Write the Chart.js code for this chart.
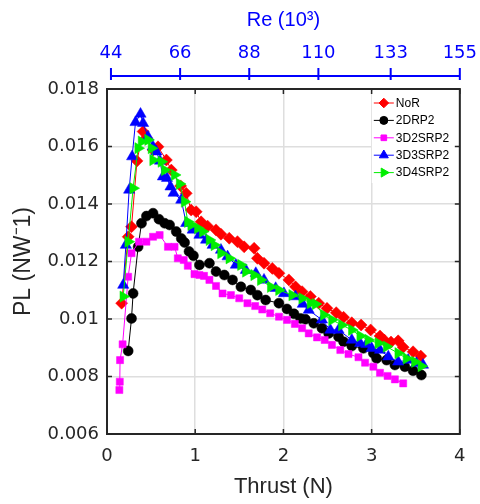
<!DOCTYPE html>
<html>
<head>
<meta charset="utf-8">
<script src="https://cdn.jsdelivr.net/npm/chart.js@4/dist/chart.umd.min.js"></script>
<style>
  body { margin: 0; background: #fff; }
</style>
</head>
<body>
<canvas id="myChart" width="480" height="504"></canvas>
<script>
// thrust (N) and power loading PL (N/W)
var norT = [0.166, 0.240, 0.278, 0.340, 0.409, 0.447, 0.522, 0.578, 0.673, 0.729, 0.835, 0.898, 0.954, 1.011, 1.067, 1.141, 1.236, 1.292, 1.386, 1.479, 1.555, 1.668, 1.705, 1.780, 1.874, 1.949, 2.062, 2.137, 2.212, 2.306, 2.400, 2.494, 2.599, 2.682, 2.775, 2.881, 2.989, 3.095, 3.144, 3.220, 3.301, 3.358, 3.470, 3.557];
var norPL = [0.01055, 0.01286, 0.01321, 0.01550, 0.01652, 0.01630, 0.01588, 0.01599, 0.01553, 0.01518, 0.01463, 0.01437, 0.01379, 0.01373, 0.01338, 0.01323, 0.01310, 0.01295, 0.01281, 0.01269, 0.01251, 0.01246, 0.01211, 0.01194, 0.01176, 0.01159, 0.01136, 0.01112, 0.01095, 0.01078, 0.01055, 0.01037, 0.01022, 0.01006, 0.00987, 0.00979, 0.00962, 0.00941, 0.00927, 0.00920, 0.00924, 0.00902, 0.00886, 0.00871];

var drpT = [0.240, 0.278, 0.296, 0.353, 0.391, 0.447, 0.522, 0.589, 0.654, 0.710, 0.785, 0.842, 0.880, 0.930, 0.980, 1.048, 1.161, 1.236, 1.330, 1.423, 1.518, 1.630, 1.705, 1.799, 1.949, 2.040, 2.120, 2.194, 2.250, 2.344, 2.437, 2.513, 2.625, 2.682, 2.775, 2.907, 3.020, 3.057, 3.170, 3.264, 3.377, 3.470, 3.564];
var drpPL = [0.00889, 0.01002, 0.01089, 0.01251, 0.01333, 0.01358, 0.01368, 0.01347, 0.01333, 0.01327, 0.01304, 0.01280, 0.01266, 0.01235, 0.01220, 0.01188, 0.01194, 0.01165, 0.01153, 0.01136, 0.01112, 0.01101, 0.01083, 0.01066, 0.01055, 0.01035, 0.01018, 0.01002, 0.00999, 0.00985, 0.00968, 0.00950, 0.00938, 0.00921, 0.00906, 0.00898, 0.00881, 0.00863, 0.00857, 0.00840, 0.00834, 0.00820, 0.00805];

var s2T = [0.140, 0.145, 0.148, 0.177, 0.240, 0.278, 0.364, 0.447, 0.522, 0.597, 0.691, 0.766, 0.803, 0.870, 0.916, 0.992, 1.048, 1.100, 1.161, 1.236, 1.310, 1.405, 1.499, 1.592, 1.680, 1.760, 1.850, 1.950, 2.040, 2.130, 2.212, 2.287, 2.381, 2.468, 2.550, 2.645, 2.738, 2.851, 2.926, 3.020, 3.095, 3.181, 3.264, 3.358];
var s2PL = [0.00753, 0.00782, 0.00857, 0.00912, 0.01147, 0.01229, 0.01269, 0.01269, 0.01286, 0.01292, 0.01251, 0.01251, 0.01211, 0.01205, 0.01185, 0.01156, 0.01153, 0.01150, 0.01136, 0.01115, 0.01089, 0.01083, 0.01072, 0.01055, 0.01045, 0.01033, 0.01020, 0.01008, 0.00997, 0.00983, 0.00968, 0.00950, 0.00936, 0.00927, 0.00910, 0.00892, 0.00878, 0.00867, 0.00848, 0.00834, 0.00813, 0.00802, 0.00790, 0.00776];

var s3T = [0.184, 0.214, 0.251, 0.285, 0.323, 0.380, 0.409, 0.465, 0.520, 0.560, 0.600, 0.634, 0.680, 0.720, 0.755, 0.842, 0.898, 0.972, 1.048, 1.123, 1.198, 1.292, 1.367, 1.461, 1.574, 1.687, 1.780, 1.912, 2.006, 2.137, 2.220, 2.287, 2.437, 2.532, 2.625, 2.775, 2.870, 2.940, 3.000, 3.095, 3.189, 3.301, 3.414, 3.508, 3.583];
var s3PL = [0.01118, 0.01257, 0.01449, 0.01565, 0.01684, 0.01713, 0.01681, 0.01634, 0.01600, 0.01582, 0.01550, 0.01495, 0.01490, 0.01460, 0.01438, 0.01414, 0.01333, 0.01310, 0.01292, 0.01275, 0.01257, 0.01240, 0.01217, 0.01188, 0.01170, 0.01159, 0.01136, 0.01107, 0.01089, 0.01078, 0.01052, 0.01031, 0.00997, 0.00962, 0.00962, 0.00927, 0.00916, 0.00912, 0.00898, 0.00892, 0.00869, 0.00851, 0.00857, 0.00846, 0.00840];

var s4T = [0.184, 0.240, 0.296, 0.353, 0.391, 0.465, 0.504, 0.522, 0.616, 0.654, 0.766, 0.823, 0.879, 0.916, 0.954, 1.029, 1.085, 1.161, 1.217, 1.292, 1.386, 1.518, 1.574, 1.668, 1.743, 1.856, 1.949, 2.099, 2.212, 2.306, 2.363, 2.456, 2.550, 2.662, 2.775, 2.870, 2.963, 3.076, 3.170, 3.301, 3.395, 3.490, 3.564];
var s4PL = [0.01078, 0.01269, 0.01455, 0.01594, 0.01617, 0.01623, 0.01594, 0.01553, 0.01547, 0.01518, 0.01501, 0.01470, 0.01408, 0.01338, 0.01327, 0.01316, 0.01304, 0.01275, 0.01257, 0.01229, 0.01211, 0.01188, 0.01165, 0.01153, 0.01136, 0.01112, 0.01101, 0.01083, 0.01072, 0.01055, 0.01052, 0.01014, 0.00997, 0.00979, 0.00962, 0.00941, 0.00927, 0.00916, 0.00904, 0.00881, 0.00863, 0.00851, 0.00836];

var names = ['NoR', '2DRP2', '3D2SRP2', '3D3SRP2', '3D4SRP2'];
var thrustTicks = [0, 1, 2, 3, 4];
var plTicks = [0.006, 0.008, 0.010, 0.012, 0.014, 0.016, 0.018];
var plTickLabels = ['0.006', '0.008', '0.01', '0.012', '0.014', '0.016', '0.018'];
var reTicks = [44, 66, 88, 110, 133, 155];

var colors = ['#ff0000', '#000000', '#ff00ff', '#0000ff', '#00ee00'];
var marks = [
    { style: 'rectRot', r: 6, rot: 0 },
    { style: 'circle', r: 5, rot: 0 },
    { style: 'rect', r: 5, rot: 0 },
    { style: 'triangle', r: 6.5, rot: 0 },
    { style: 'triangle', r: 6.5, rot: 90 }
];
var ink = '#262626';
var blue = '#0000ff';

function pts(t, p) {
    return t.map(function (v, i) { return { x: v, y: p[i] }; });
}

var series = [pts(norT, norPL), pts(drpT, drpPL), pts(s2T, s2PL), pts(s3T, s3PL), pts(s4T, s4PL)];

var datasets = series.map(function (d, i) {
    return {
        label: names[i],
        data: d,
        showLine: true,
        borderColor: colors[i],
        backgroundColor: colors[i],
        borderWidth: 1,
        pointStyle: marks[i].style,
        pointRadius: marks[i].r,
        pointRotation: marks[i].rot,
        pointBorderWidth: 0.5,
        order: 5 - i
    };
});

// box round the plot, inward ticks, the separate Re axis and the legend
var frame = {
    id: 'frame',
    afterDatasetsDraw: function (chart) {
        var c = chart.ctx;
        var a = chart.chartArea;
        var x0 = a.right - 88, y0 = a.top + 2;
        c.save();
        c.fillStyle = '#ffffff';
        c.fillRect(x0, y0, 87, 92);
        c.font = '12px "Liberation Sans", Arial, sans-serif';
        c.textBaseline = 'middle';
        names.forEach(function (n, i) {
            var y = y0 + 12 + i * 17.4;
            c.strokeStyle = colors[i];
            c.lineWidth = 1;
            c.beginPath();
            c.moveTo(x0 + 2, y);
            c.lineTo(x0 + 22, y);
            c.stroke();
            c.fillStyle = colors[i];
            c.strokeStyle = colors[i];
            Chart.helpers.drawPoint(c, { pointStyle: marks[i].style, radius: marks[i].r * 0.8, rotation: marks[i].rot, borderWidth: 0.5 }, x0 + 12, y);
            c.fillStyle = '#000000';
            c.fillText(n, x0 + 24, y + 0.5);
        });
        c.restore();
    },
    afterDraw: function (chart) {
        var c = chart.ctx;
        var a = chart.chartArea;
        var sx = chart.scales.x, sy = chart.scales.y, re = chart.scales.re;
        c.save();
        c.strokeStyle = ink;
        c.lineWidth = 2;
        c.strokeRect(a.left, a.top, a.right - a.left, a.bottom - a.top);
        c.lineWidth = 1.5;
        c.beginPath();
        sx.ticks.forEach(function (t) {
            var px = sx.getPixelForValue(t.value);
            c.moveTo(px, a.bottom); c.lineTo(px, a.bottom - 5);
            c.moveTo(px, a.top); c.lineTo(px, a.top + 5);
        });
        sy.ticks.forEach(function (t) {
            var py = sy.getPixelForValue(t.value);
            c.moveTo(a.left, py); c.lineTo(a.left + 5, py);
            c.moveTo(a.right, py); c.lineTo(a.right - 5, py);
        });
        c.stroke();

        var yr = a.top - 13;
        c.strokeStyle = blue;
        c.lineWidth = 2;
        c.beginPath();
        c.moveTo(re.getPixelForValue(reTicks[0]), yr);
        c.lineTo(re.getPixelForValue(reTicks[reTicks.length - 1]), yr);
        reTicks.forEach(function (v) {
            var px = re.getPixelForValue(v);
            c.moveTo(px, yr - 8); c.lineTo(px, yr + 4);
        });
        c.stroke();
        c.restore();
    }
};

var tickFont = { family: '"DejaVu Sans", sans-serif', size: 18 };
var titleFont = { family: '"Liberation Sans", Arial, sans-serif', size: 22 };

var ctx = document.getElementById('myChart').getContext('2d');
var myChart = new Chart(ctx, {
    type: 'scatter',
    data: { datasets: datasets },
    options: {
        responsive: false,
        animation: false,
        devicePixelRatio: 1,
        layout: { padding: { top: 0, right: 18, bottom: 0, left: 0 } },
        plugins: {
            legend: { display: false },
            tooltip: { enabled: false }
        },
        scales: {
            x: {
                type: 'linear',
                position: 'bottom',
                min: 0,
                max: 4,
                afterBuildTicks: function (s) { s.ticks = thrustTicks.map(function (v) { return { value: v }; }); },
                afterFit: function (s) { s.height = 70; },
                ticks: { color: ink, font: tickFont, padding: 12, maxRotation: 0 },
                grid: { color: '#dedede', lineWidth: 1.5, drawTicks: false },
                border: { display: false },
                title: { display: true, text: 'Thrust (N)', color: ink, font: titleFont, padding: { top: 0, bottom: 4 } }
            },
            y: {
                type: 'linear',
                min: 0.006,
                max: 0.018,
                afterBuildTicks: function (s) { s.ticks = plTicks.map(function (v) { return { value: v }; }); },
                afterFit: function (s) { s.width = 107; },
                ticks: {
                    color: ink,
                    font: tickFont,
                    padding: 8,
                    callback: function (v, i) { return plTickLabels[i]; }
                },
                grid: { color: '#dedede', lineWidth: 1.5, drawTicks: false },
                border: { display: false },
                title: { display: true, text: 'PL (NW\u207B1)', color: ink, font: { family: titleFont.family, size: 23 }, padding: { top: 10, bottom: 0 } }
            },
            re: {
                type: 'linear',
                position: 'top',
                min: 42.74,
                max: 155,
                afterBuildTicks: function (s) { s.ticks = reTicks.map(function (v) { return { value: v }; }); },
                afterFit: function (s) { s.height = 89; },
                ticks: { color: blue, font: tickFont, padding: 3, maxRotation: 0 },
                grid: { drawOnChartArea: false, drawTicks: true, tickLength: 22, color: 'rgba(0,0,0,0)' },
                border: { display: false },
                title: { display: true, text: 'Re (10\u00B3)', color: blue, font: { family: titleFont.family, size: 20 }, padding: { top: 8, bottom: 0 } }
            }
        }
    },
    plugins: [frame]
});
</script>
</body>
</html>
